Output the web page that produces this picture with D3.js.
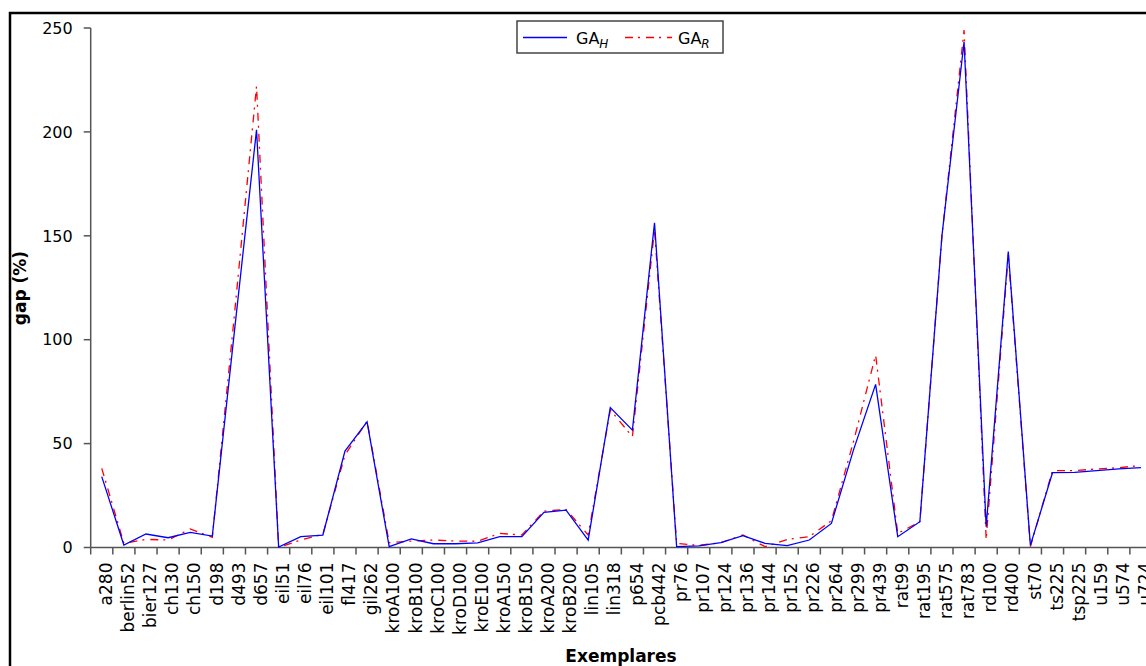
<!DOCTYPE html>
<html><head><meta charset="utf-8">
<script src="https://cdn.jsdelivr.net/npm/d3@7/dist/d3.min.js"></script>
<style>
html,body{margin:0;padding:0;background:#fff;}
svg{display:block;}
text{font-family:"DejaVu Sans",Verdana,sans-serif;}
</style></head>
<body>
<svg id="c" width="1146" height="666"></svg>
<script>
const categories = ["a280","berlin52","bier127","ch130","ch150","d198","d493","d657","eil51","eil76","eil101","fl417","gil262","kroA100","kroB100","kroC100","kroD100","kroE100","kroA150","kroB150","kroA200","kroB200","lin105","lin318","p654","pcb442","pr76","pr107","pr124","pr136","pr144","pr152","pr226","pr264","pr299","pr439","rat99","rat195","rat575","rat783","rd100","rd400","st70","ts225","tsp225","u159","u574","u724"];
const gaH = [34.1,1.2,6.5,4.7,7.3,5.5,104,201,0.2,5.2,6,46.4,60.5,0.4,4.1,1.8,1.8,2.2,5.2,5.2,16.9,18,3.6,67.3,56.5,156.3,0.4,0.8,2.3,5.7,2,0.9,3.6,11.6,47,78.5,5.2,12.4,150,243.4,10,142.4,1,36,36.2,37,37.8,38.4];
const gaR = [38.1,2,3.9,3.6,8.9,4.9,112,222,0,3.6,6.3,44.5,60.8,2.3,3.1,3.6,3.1,3,6.8,6,17.5,18.3,6,66.2,53.3,153,2,1,2.3,6,0.4,3.9,5.2,12.9,51,92.6,6.8,12.4,150,249,3.9,141,0.4,37,37,37.8,38.4,39.5];
const yTicks = [0,50,100,150,200,250];
const yLabel = "gap (%)";
const xLabel = "Exemplares";

const svg = d3.select("#c");
const x0 = 90.7, x1 = 1152, y0 = 547.5, y1 = 28;
const x = d3.scaleBand().domain(categories).range([x0, x1]).padding(0);
const y = d3.scaleLinear().domain([0, 250]).range([y0, y1]);
const axisColor = "#555";

// outer frame
svg.append("rect").attr("x", 10).attr("y", 13).attr("width", 1200).attr("height", 700)
  .attr("fill", "none").attr("stroke", "#000").attr("stroke-width", 2.5);

// y axis
svg.append("line").attr("x1", x0).attr("x2", x0).attr("y1", y1).attr("y2", y0)
  .attr("stroke", axisColor).attr("stroke-width", 1.5);
yTicks.forEach(t => {
  svg.append("line").attr("x1", x0 - 7).attr("x2", x0).attr("y1", y(t)).attr("y2", y(t))
    .attr("stroke", axisColor).attr("stroke-width", 1.5);
  svg.append("text").attr("x", x0 - 18).attr("y", y(t)).attr("dy", "0.36em")
    .attr("text-anchor", "end").attr("font-size", 16).attr("fill", "#000").text(t);
});

// x axis
svg.append("line").attr("x1", x0).attr("x2", x1).attr("y1", y0).attr("y2", y0)
  .attr("stroke", axisColor).attr("stroke-width", 1.5);
const edges = categories.map(c => x(c)).concat([x1]);
edges.forEach(e => {
  svg.append("line").attr("x1", e).attr("x2", e).attr("y1", y0).attr("y2", y0 + 7)
    .attr("stroke", axisColor).attr("stroke-width", 1.5);
});
categories.forEach(c => {
  const cx = x(c) + x.bandwidth() / 2;
  svg.append("text")
    .attr("transform", `translate(${cx},${y0 + 15}) rotate(-90)`)
    .attr("dy", "0.6em").attr("text-anchor", "end").attr("font-size", 17)
    .attr("fill", "#000").text(c);
});

// lines
const lineGen = d3.line().x((d, i) => x(categories[i]) + x.bandwidth() / 2).y(d => y(d));
svg.append("path").datum(gaR).attr("d", lineGen).attr("fill", "none")
  .attr("stroke", "#ff0000").attr("stroke-width", 1.3).attr("stroke-dasharray", "8,5,2,6");
svg.append("path").datum(gaH).attr("d", lineGen).attr("fill", "none")
  .attr("stroke", "#0000ff").attr("stroke-width", 1.3);

// axis titles
svg.append("text").attr("x", 621).attr("y", 662)
  .attr("text-anchor", "middle").attr("font-size", 17).attr("font-weight", "bold").text(xLabel);
svg.append("text").attr("transform", "translate(26,288) rotate(-90)")
  .attr("text-anchor", "middle").attr("font-size", 17).attr("font-weight", "bold").text(yLabel);

// legend
const lg = svg.append("g");
lg.append("rect").attr("x", 517).attr("y", 21).attr("width", 206).attr("height", 32)
  .attr("fill", "#fff").attr("stroke", "#444").attr("stroke-width", 1.5);
lg.append("line").attr("x1", 523).attr("x2", 567).attr("y1", 37.5).attr("y2", 37.5)
  .attr("stroke", "#0000ff").attr("stroke-width", 1.3);
const t1 = lg.append("text").attr("x", 576).attr("y", 44).attr("font-size", 16);
t1.append("tspan").text("GA");
t1.append("tspan").attr("dy", 4).attr("font-size", 12).attr("font-style", "italic").text("H");
lg.append("line").attr("x1", 625).attr("x2", 672).attr("y1", 37.5).attr("y2", 37.5)
  .attr("stroke", "#ff0000").attr("stroke-width", 1.3).attr("stroke-dasharray", "8,5,2,6");
const t2 = lg.append("text").attr("x", 678).attr("y", 44).attr("font-size", 16);
t2.append("tspan").text("GA");
t2.append("tspan").attr("dy", 4).attr("font-size", 12).attr("font-style", "italic").text("R");
</script>
</body></html>
